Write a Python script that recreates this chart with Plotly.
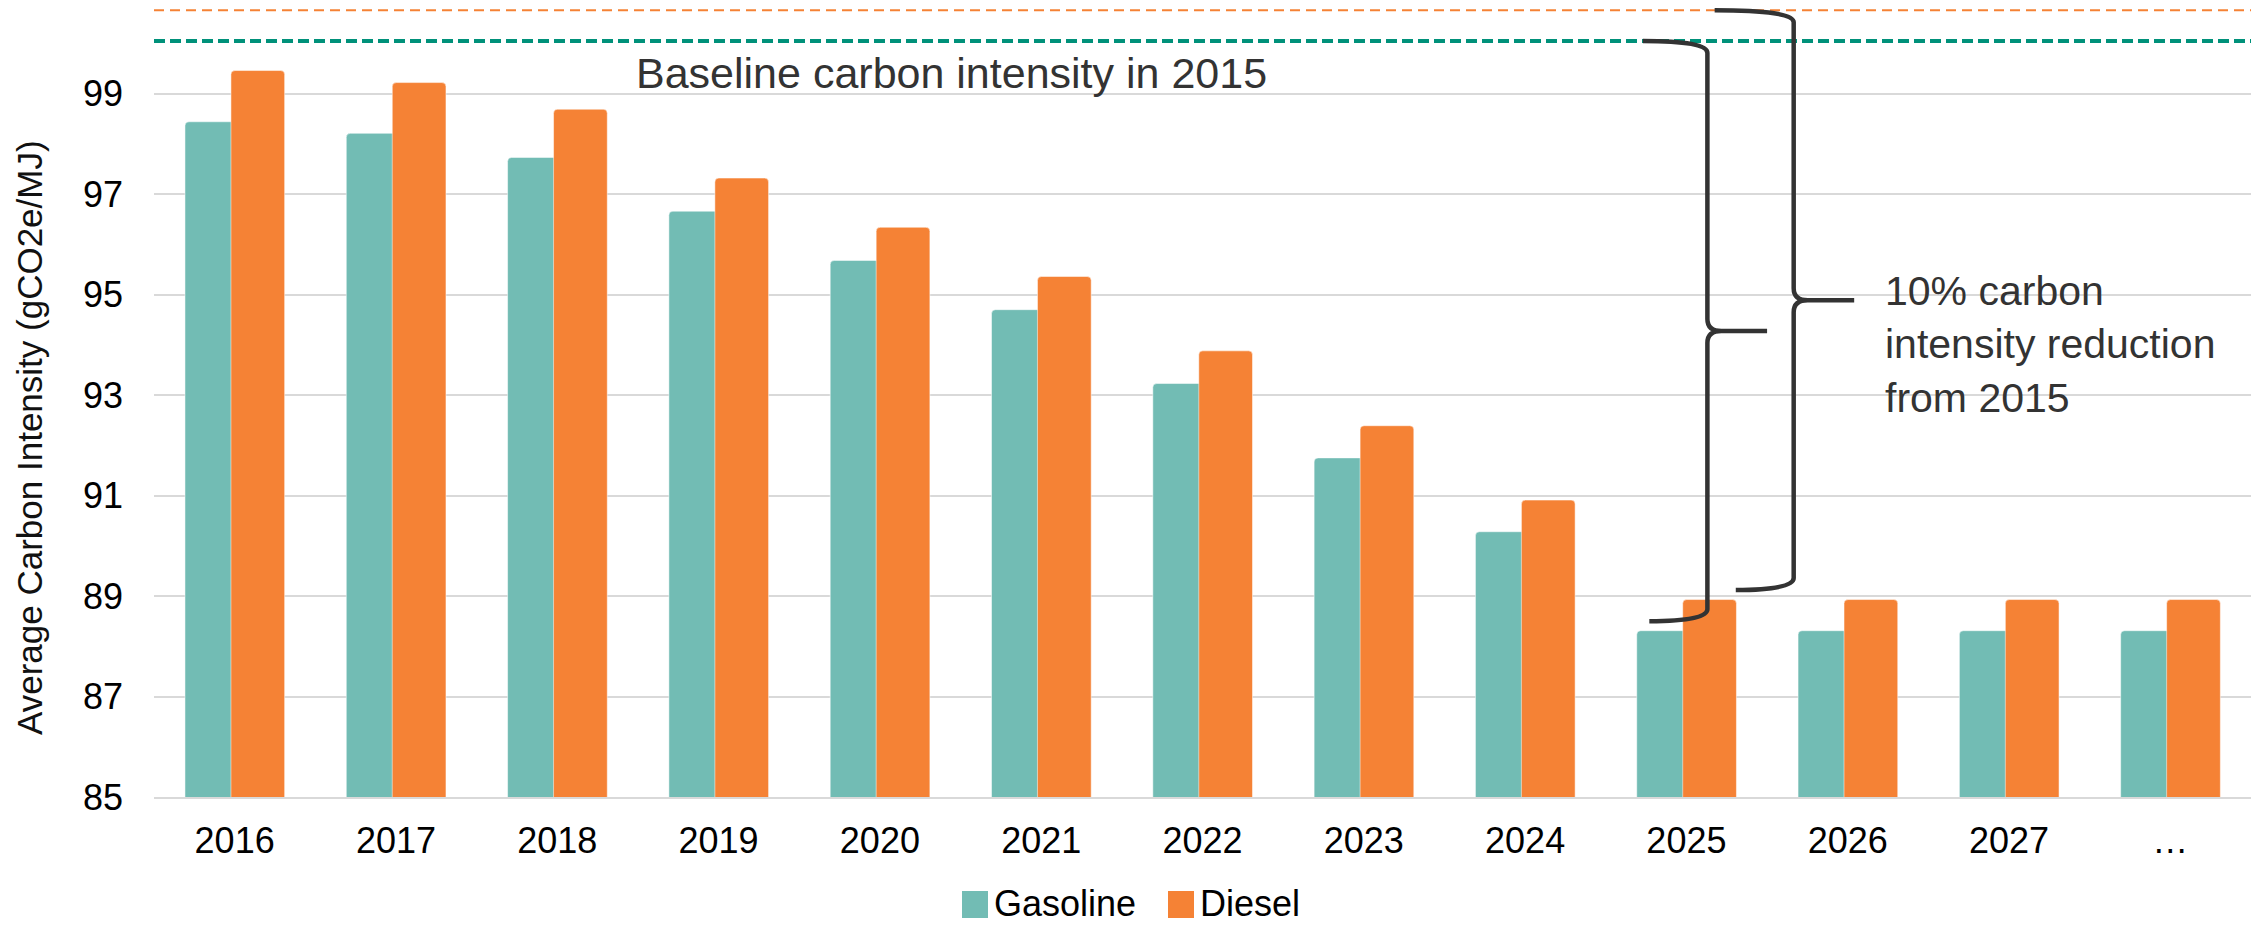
import plotly.graph_objects as go

# ---- data -------------------------------------------------------------
years = ["2016", "2017", "2018", "2019", "2020", "2021", "2022",
         "2023", "2024", "2025", "2026", "2027", "…"]
gasoline = [98.44, 98.21, 97.73, 96.66, 95.68, 94.70, 93.23,
            91.75, 90.28, 88.31, 88.31, 88.31, 88.31]
diesel = [99.46, 99.22, 98.69, 97.32, 96.34, 95.36, 93.88,
          92.39, 90.91, 88.93, 88.93, 88.93, 88.93]

# 2015 baseline levels (dashed reference lines)
baseline_gasoline = 100.05
baseline_diesel = 100.66

# curly braces: vertical x, top-lip x, bottom-lip x, tip x, top y, bottom y
braces = [
    dict(xv=9.13, x_top=8.73, x_bot=8.77, x_tip=9.50, y_top=baseline_gasoline, y_bot=88.50),
    dict(xv=9.665, x_top=9.175, x_bot=9.306, x_tip=10.04, y_top=baseline_diesel, y_bot=89.12),
]

# ---- layout constants -------------------------------------------------
W, H = 2260, 926
M_L, M_R, M_T, M_B = 154, 9, 0, 129
Y_MIN, Y_MAX = 85, 100.864
PX_X = (W - M_L - M_R) / len(years)
PX_Y = (H - M_T - M_B) / (Y_MAX - Y_MIN)

TEAL = "#72BCB4"
ORANGE = "#F58235"
TEAL_DARK = "#00917A"
INK = "#333333"
FONT = "Liberation Sans, Arial, sans-serif"

x_idx = list(range(len(years)))

fig = go.Figure()
fig.add_trace(go.Bar(
    x=x_idx, y=gasoline, name="Gasoline",
    offset=-0.308, width=0.333,
    marker=dict(color=TEAL, cornerradius=4,
                line=dict(color="rgba(255,255,255,0.5)", width=1)),
    showlegend=False,
))
fig.add_trace(go.Bar(
    x=x_idx, y=diesel, name="Diesel",
    offset=-0.023, width=0.333,
    marker=dict(color=ORANGE, cornerradius=4,
                line=dict(color="rgba(255,255,255,0.5)", width=1)),
    showlegend=False,
))

shapes = []
# baseline dashed lines
shapes.append(dict(type="line", xref="paper", x0=0, x1=1, yref="y",
                   y0=baseline_diesel, y1=baseline_diesel,
                   line=dict(color=ORANGE, width=2, dash="10px,6px")))
shapes.append(dict(type="line", xref="paper", x0=0, x1=1, yref="y",
                   y0=baseline_gasoline, y1=baseline_gasoline,
                   line=dict(color=TEAL_DARK, width=4, dash="11px,5px")))


def brace_path(b):
    dx = lambda px: px / PX_X
    dy = lambda px: px / PX_Y
    xv, yt, yb = b["xv"], b["y_top"], b["y_bot"]
    ym = (yt + yb) / 2
    lip = dy(12)
    cusp = dy(12)
    arm = dx(14)
    p = []
    p.append(f"M{b['x_top']},{yt}")
    p.append(f"Q{xv},{yt} {xv},{yt - lip}")
    p.append(f"L{xv},{ym + cusp}")
    p.append(f"Q{xv},{ym} {xv + arm},{ym}")
    p.append(f"L{b['x_tip']},{ym}")
    p.append(f"M{xv + arm},{ym}")
    p.append(f"Q{xv},{ym} {xv},{ym - cusp}")
    p.append(f"L{xv},{yb + lip}")
    p.append(f"Q{xv},{yb} {b['x_bot']},{yb}")
    return " ".join(p)


for b in braces:
    shapes.append(dict(type="path", xref="x", yref="y", path=brace_path(b),
                       line=dict(color=INK, width=4.5)))


# legend drawn as swatches + labels below the axis
def px_x(px):
    return (px - M_L) / (W - M_L - M_R)


def px_y(py):
    return (H - M_B - py) / (H - M_T - M_B)


legend_items = [("Gasoline", TEAL, 962), ("Diesel", ORANGE, 1168)]
annotations = []
for label, color, left in legend_items:
    shapes.append(dict(type="rect", xref="paper", yref="paper",
                       x0=px_x(left), x1=px_x(left + 26),
                       y0=px_y(918), y1=px_y(891),
                       fillcolor=color, line=dict(width=0)))
    annotations.append(dict(xref="paper", yref="paper",
                            x=px_x(left + 30), y=px_y(903),
                            xanchor="left", yanchor="middle",
                            text=label, showarrow=False,
                            font=dict(family=FONT, size=36, color="#000000")))

annotations.append(dict(xref="x", yref="y", x=2.474, y=99.41,
                        xanchor="left", yanchor="middle", showarrow=False,
                        text="Baseline carbon intensity in 2015",
                        font=dict(family=FONT, size=43, color=INK)))
annotations.append(dict(xref="x", yref="y", x=10.217, y=94.0,
                        xanchor="left", yanchor="middle", align="left",
                        showarrow=False,
                        text="10% carbon<br>intensity reduction<br>from 2015",
                        font=dict(family=FONT, size=41, color=INK)))
annotations.append(dict(xref="paper", yref="paper", x=px_x(29), y=px_y(438),
                        xanchor="center", yanchor="middle", textangle=-90,
                        showarrow=False,
                        text="Average Carbon Intensity (gCO2e/MJ)",
                        font=dict(family=FONT, size=35, color="#111111")))

fig.update_layout(
    width=W, height=H,
    margin=dict(l=M_L, r=M_R, t=M_T, b=M_B),
    paper_bgcolor="white", plot_bgcolor="white",
    barmode="overlay",
    showlegend=False,
    shapes=shapes,
    annotations=annotations,
    font=dict(family=FONT, color="#000000"),
    xaxis=dict(
        range=[-0.5, len(years) - 0.5],
        tickmode="array", tickvals=x_idx, ticktext=years,
        tickfont=dict(size=36, color="#000000"),
        showgrid=False, zeroline=False,
        showline=True, linecolor="#D9D9D9", linewidth=2,
        ticks="", ticklabelstandoff=11,
    ),
    yaxis=dict(
        range=[Y_MIN, Y_MAX],
        tick0=85, dtick=2,
        tickfont=dict(size=36, color="#000000"),
        showgrid=True, gridcolor="#D9D9D9", gridwidth=2,
        zeroline=False, showline=False,
        ticks="", ticklabelstandoff=30,
    ),
)

fig.write_html("out.html")
